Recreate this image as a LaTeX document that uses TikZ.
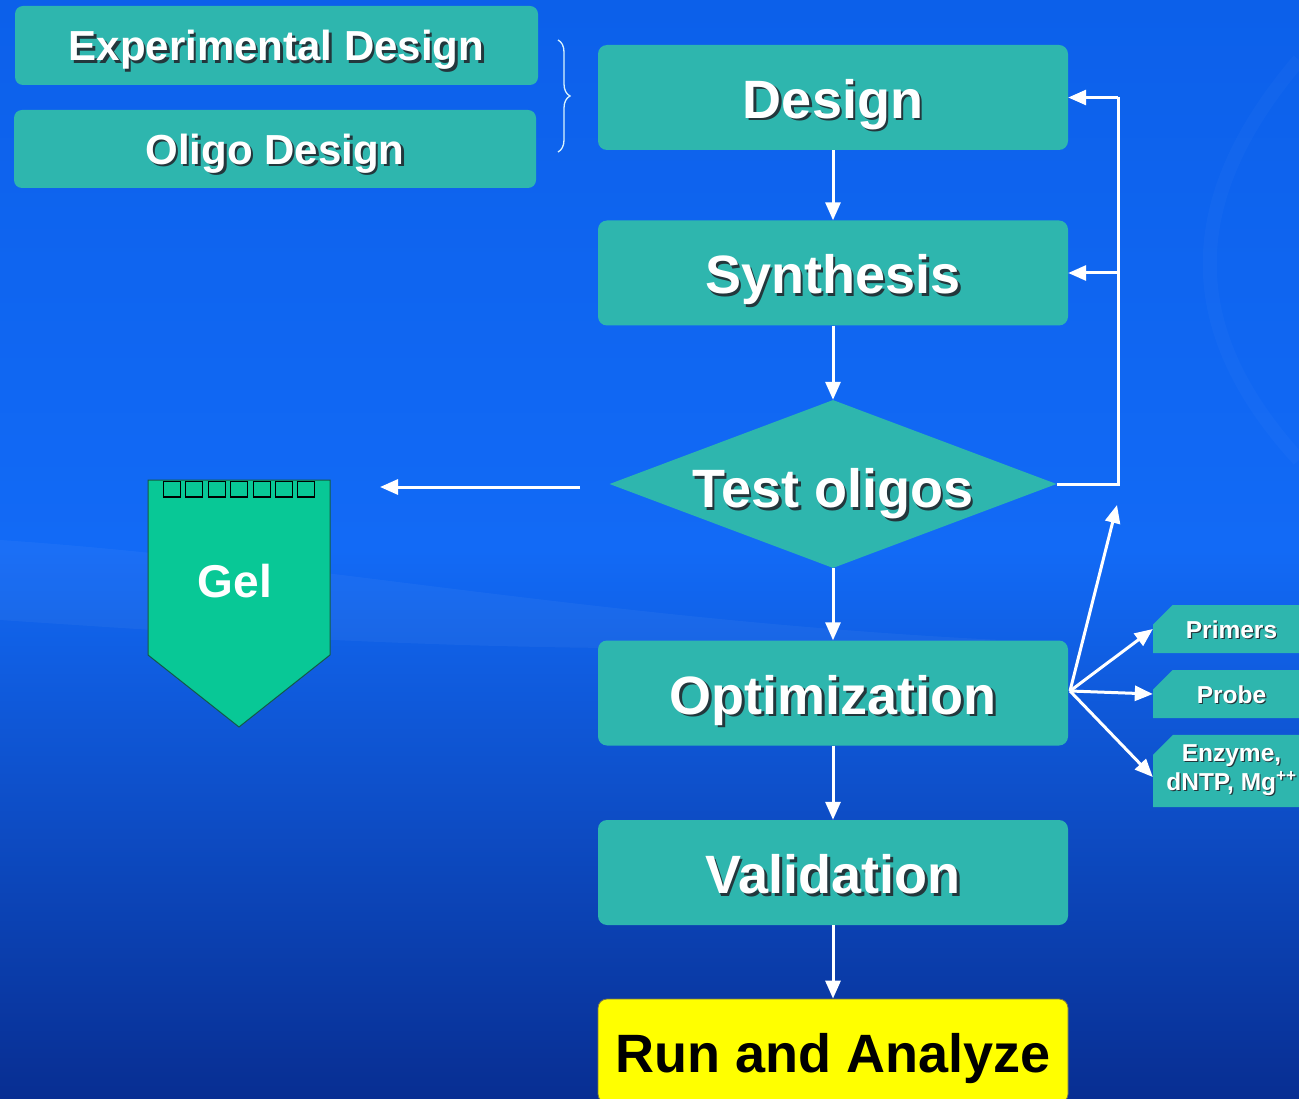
\documentclass[tikz,border=0pt]{standalone}
\usepackage{fontspec}
\setmainfont{Liberation Sans}
\usetikzlibrary{shapes.geometric,shapes.misc,arrows.meta,decorations.pathreplacing}
\definecolor{tealbox}{RGB}{46,182,174}
\definecolor{gelgreen}{RGB}{8,200,150}
\definecolor{gelborder}{RGB}{20,90,70}
\definecolor{shadowc}{RGB}{35,55,60}
\definecolor{bgtop}{RGB}{12,96,234}
\definecolor{bgmid}{RGB}{18,106,246}
\definecolor{bgbot}{RGB}{8,46,146}
\definecolor{runyellow}{RGB}{255,255,0}
\newcommand{\shtxt}[2][2.5pt]{\leavevmode\rlap{\kern#1\raisebox{-#1}{\textcolor{shadowc}{#2}}}#2}
\tikzset{
  mainbox/.style={rectangle, rounded corners=9pt, fill=tealbox, minimum width=470pt,
    minimum height=105pt, inner sep=0pt, text=white, text height=42pt, text depth=0pt,
    font=\fontsize{54}{60}\selectfont\bfseries},
  sidebox/.style={rectangle, rounded corners=8pt, fill=tealbox, inner sep=0pt, text=white,
    text height=31pt, text depth=0pt, font=\fontsize{42}{48}\selectfont\bfseries},
  smallbox/.style={chamfered rectangle, chamfered rectangle corners=north west,
    chamfered rectangle xsep=10pt, chamfered rectangle ysep=10pt,
    fill=tealbox, minimum width=157pt, inner sep=0pt, text=white, align=center,
    font=\fontsize{24.5}{29}\selectfont\bfseries},
  arr/.style={draw=white, line width=3pt, -{Triangle[length=18pt,width=15pt]}},
  wire/.style={draw=white, line width=3pt},
}
\begin{document}
\begin{tikzpicture}[x=1pt,y=-1pt]
\useasboundingbox (0,0) rectangle (1299,1099);
\clip (0,0) rectangle (1299,1099);
% background
\shade[top color=bgtop, bottom color=bgbot, middle color=bgmid] (0,0) rectangle (1299,1099);
\fill[white, opacity=0.04] (0,540) .. controls (300,560) and (600,620) .. (1000,640) .. controls (600,660) and (300,640) .. (0,620) -- cycle;
\draw[white, opacity=0.025, line width=14pt] (1299,60) .. controls (1180,200) and (1180,330) .. (1299,460);

% side boxes
\node[sidebox, minimum width=523pt, minimum height=79pt] (exp) at (276.5,45.5) {\shtxt{Experimental Design}};
\node[sidebox, minimum width=522pt, minimum height=78pt] (oligo) at (275,149) {\shtxt{Oligo Design}};
\draw[white!85!cyan, line width=1.3pt, decorate, decoration={brace, amplitude=12pt}] (558,40) -- (558,152);

% main flow
\node[mainbox] (design) at (833,97.5) {\shtxt{Design}};
\node[mainbox] (synth) at (833,273) {\shtxt{Synthesis}};
\node[diamond, aspect=2.66, fill=tealbox, minimum width=447pt, minimum height=168pt, inner sep=0pt,
  text=white, text height=47pt, text depth=0pt, font=\fontsize{54}{60}\selectfont\bfseries] (test) at (833,484) {\shtxt{Test oligos}};
\node[mainbox] (optim) at (833,693) {\shtxt{Optimization}};
\node[mainbox] (valid) at (833,872.5) {\shtxt{Validation}};
\node[mainbox, fill=runyellow, draw=black!60!yellow, line width=0.8pt, text=black, minimum height=104pt] (run) at (833,1051) {Run and Analyze};

% small boxes
\node[smallbox, minimum height=48pt, text height=19pt, text depth=0pt] (primers) at (1231.5,629) {\shtxt[1.2pt]{Primers}};
\node[smallbox, minimum height=48pt, text height=19pt, text depth=0pt] (probe) at (1231.5,694) {\shtxt[1.2pt]{Probe}};
\node[smallbox, minimum height=68pt] (enzyme) at (1231.5,771) {\shtxt[1.2pt]{Enzyme,}\\\shtxt[1.2pt]{dNTP, Mg\textsuperscript{++}}};

% gel
\draw[fill=gelgreen, draw=gelborder, line width=1pt] (148,480) -- (330,480) -- (330,655) -- (239,727) -- (148,655) -- cycle;
\foreach \i in {0,...,6} \draw[black, line width=1.1pt] ({163.5+\i*22.4},481.5) rectangle ++(17,15.5);
\node[text=white, text height=34pt, text depth=0pt, font=\fontsize{46}{50}\selectfont\bfseries] (gel) at (235,580) {Gel};

% connectors
\draw[arr] (design) -- (synth);
\draw[arr] (synth) -- (test);
\draw[arr] (test) -- (optim);
\draw[arr] (optim) -- (valid);
\draw[arr] (valid) -- (run);

\coordinate (fbk) at (1118,484);
\draw[wire] (test.east) -- (fbk) -- (fbk |- design.east);
\draw[arr] (fbk |- design.east) -- (design.east);
\draw[arr] (fbk |- synth.east) -- (synth.east);

\coordinate (leftstart) at (580,487);
\coordinate (leftend) at (380,487);
\draw[arr] (leftstart) -- (leftend);

\coordinate (hub) at (1070,691);
\coordinate (uptip) at (1117,505);
\draw[arr] (hub) -- (uptip);
\draw[arr] (hub) -- (primers.west);
\draw[arr] (hub) -- (probe.west);
\draw[arr] (hub) -- ([yshift=-6pt]enzyme.west);
\end{tikzpicture}
\end{document}
